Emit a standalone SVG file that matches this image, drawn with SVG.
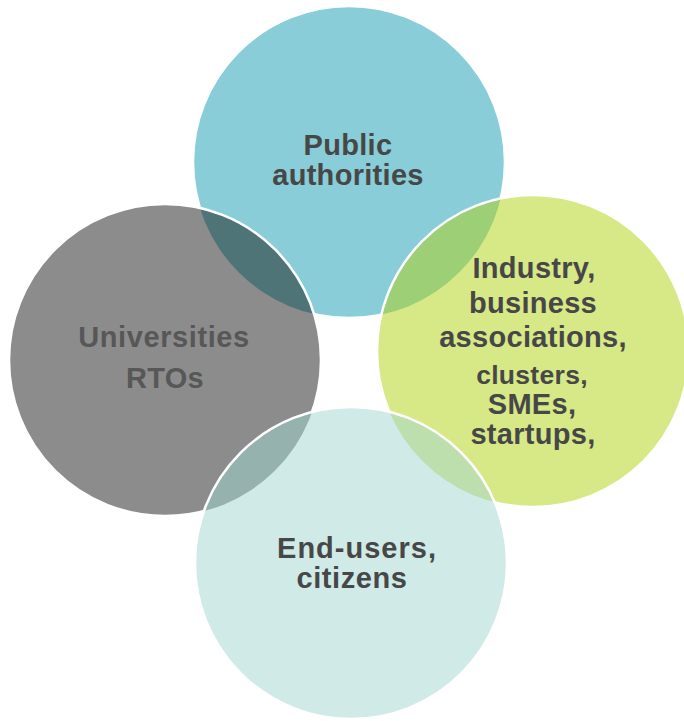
<svg xmlns="http://www.w3.org/2000/svg" width="684" height="721" viewBox="0 0 684 721">
  <style>
    .ring { stroke: #ffffff; stroke-width: 2.5; }
    .label { font-family: "Liberation Sans", Arial, sans-serif; font-weight: bold; font-size: 29px; fill: #474747; text-anchor: middle; letter-spacing: 0.3px; }
    .label.dim { fill: #575757; }
  </style>
  <defs>
    <circle id="c-top" cx="349" cy="162" r="156"/>
    <circle id="c-left" cx="165" cy="360" r="156"/>
    <circle id="c-right" cx="533" cy="351" r="156"/>
    <circle id="c-bottom" cx="351" cy="563" r="156"/>
    <clipPath id="clip-top"><use href="#c-top"/></clipPath>
    <clipPath id="clip-left"><use href="#c-left"/></clipPath>
    <clipPath id="clip-right"><use href="#c-right"/></clipPath>
  </defs>
  <rect width="684" height="721" fill="#ffffff"/>

  <!-- Public authorities -->
  <g id="node-public">
    <use href="#c-top" fill="#88cdd7" class="ring"/>
    <text class="label" x="348" y="155">Public</text>
    <text class="label" x="348" y="185">authorities</text>
  </g>

  <!-- Universities / RTOs -->
  <g id="node-universities">
    <use href="#c-left" fill="#8c8c8c"/>
    <use href="#c-left" fill="#4e7477" clip-path="url(#clip-top)"/>
    <use href="#c-left" fill="none" class="ring"/>
    <text class="label dim" x="164" y="347" style="letter-spacing:0.6px">Universities</text>
    <text class="label dim" x="165" y="388">RTOs</text>
  </g>

  <!-- Industry and business -->
  <g id="node-industry">
    <use href="#c-right" fill="#d7e887"/>
    <use href="#c-right" fill="#9ccf76" clip-path="url(#clip-top)"/>
    <use href="#c-right" fill="none" class="ring"/>
    <text class="label" x="534" y="278">Industry,</text>
    <text class="label" x="533" y="313">business</text>
    <text class="label" x="533" y="347">associations,</text>
    <text class="label" x="532" y="384" style="font-size:26.5px">clusters,</text>
    <text class="label" x="532" y="414">SMEs,</text>
    <text class="label" x="533" y="444">startups,</text>
  </g>

  <!-- End-users, citizens -->
  <g id="node-endusers">
    <use href="#c-bottom" fill="#d0eae7"/>
    <use href="#c-bottom" fill="#95b2ae" clip-path="url(#clip-left)"/>
    <use href="#c-bottom" fill="#bddfae" clip-path="url(#clip-right)"/>
    <use href="#c-bottom" fill="none" class="ring"/>
    <text class="label" x="357" y="558" style="letter-spacing:1px">End-users,</text>
    <text class="label" x="352" y="588" style="letter-spacing:0.6px">citizens</text>
  </g>

  <g id="connectors"></g>
</svg>
